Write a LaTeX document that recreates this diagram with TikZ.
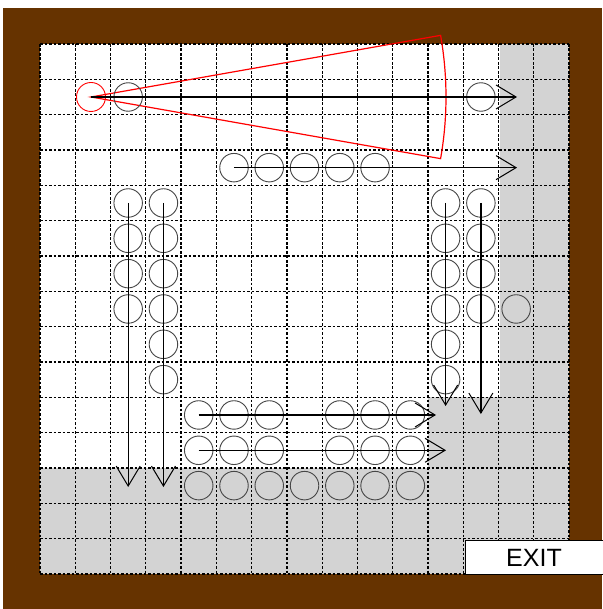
\documentclass[tikz,border=0pt]{standalone}
\usepackage{fontspec}
\setmainfont{Liberation Sans}
\usetikzlibrary{arrows.meta}
\definecolor{wallbrown}{RGB}{102,51,0}
\definecolor{zonegray}{RGB}{211,211,211}
\definecolor{agentgray}{RGB}{70,70,70}
\tikzset{
  gridline/.style={black, line width=1.3pt, dash pattern=on 2.6pt off 1.9pt},
  agent/.style={circle, draw=agentgray, line width=0.9pt, minimum size=28.5pt, inner sep=0pt},
  leader/.style={circle, draw=red, line width=0.9pt, minimum size=29pt, inner sep=0pt},
  flow/.style={black, line width=1.3pt, -{Straight Barb[length=20pt,width=24pt,line width=1pt]}},
  cone/.style={red, line width=1.2pt}
}
\newcommand{\cx}[1]{40+35.27*(#1+0.5)}
\newcommand{\cy}[1]{44+35.33*(#1+0.5)}
\begin{document}
\begin{tikzpicture}[x=1pt,y=-1pt]
\useasboundingbox (0,0) rectangle (602,609);
% wall
\fill[wallbrown] (3,8) rectangle (602,609);
% floor
\fill[white] (40,44) rectangle (569,574);
% gray zones
\fill[zonegray] (499.5,44) rectangle (569,574);
\fill[zonegray] (40,468) rectangle (569,574);
\fill[zonegray] (428,397.3) rectangle (569,574);
% grid
\foreach \i in {0,...,15} {
  \draw[gridline] ({40+35.27*\i},44) -- ({40+35.27*\i},574);
  \draw[gridline] (40,{44+35.33*\i}) -- (569,{44+35.33*\i});
}
% exit
\node[draw=black, line width=1.3pt, fill=white, minimum width=140pt, minimum height=34pt, anchor=north west, inner sep=0pt] (exit) at (465,540) {};
\node[font=\fontsize{25}{25}\selectfont] (exittext) at (534,558) {EXIT};
% leader with view cone
\node[leader] (L) at (91,{\cy{1}}) {};
\draw[cone] (L.center) -- plot[domain=-10:10,samples=40] ({91+355*cos(\x)},{\cy{1}+355*sin(\x)}) -- cycle;
% row 1
\node[agent] (a12) at ({\cx{2}},{\cy{1}}) {};
\node[agent] (a112) at ({\cx{12}},{\cy{1}}) {};
\coordinate (e1) at (517,{\cy{1}});
\draw[flow] (L.center) -- (e1);
% row 3
\foreach \c in {5,...,9} { \node[agent] (r3c\c) at ({\cx{\c}},{\cy{3}}) {}; }
\coordinate (e3) at (517,{\cy{3}});
\draw[flow] (r3c5.center) -- (e3);
% column 2
\foreach \r in {4,...,7} { \node[agent] (c2r\r) at ({\cx{2}},{\cy{\r}}) {}; }
\coordinate (ec2) at ({\cx{2}},487);
\draw[flow] (c2r4.center) -- (ec2);
% column 3
\foreach \r in {4,...,9} { \node[agent] (c3r\r) at ({\cx{3}},{\cy{\r}}) {}; }
\coordinate (ec3) at ({\cx{3}},487);
\draw[flow] (c3r4.center) -- (ec3);
% column 11
\foreach \r in {4,...,9} { \node[agent] (c11r\r) at ({\cx{11}},{\cy{\r}}) {}; }
\coordinate (ec11) at ({\cx{11}},406);
\draw[flow] (c11r4.center) -- (ec11);
% column 12
\foreach \r in {4,...,7} { \node[agent] (c12r\r) at ({\cx{12}},{\cy{\r}}) {}; }
\coordinate (ec12) at ({\cx{12}},414);
\draw[flow] (c12r4.center) -- (ec12);
% column 13 single
\node[agent] (c13r7) at ({\cx{13}},{\cy{7}}) {};
% row 10 and 11
\foreach \c in {4,5,6,8,9,10} {
  \node[agent] (r10c\c) at ({\cx{\c}},{\cy{10}}) {};
  \node[agent] (r11c\c) at ({\cx{\c}},{\cy{11}}) {};
}
\coordinate (e10) at (436,{\cy{10}});
\coordinate (e11) at (446,{\cy{11}});
\draw[flow] (r10c4.center) -- (e10);
\draw[flow] (r11c4.center) -- (e11);
% row 12
\foreach \c in {4,...,10} { \node[agent] (r12c\c) at ({\cx{\c}},{\cy{12}}) {}; }
\end{tikzpicture}
\end{document}
